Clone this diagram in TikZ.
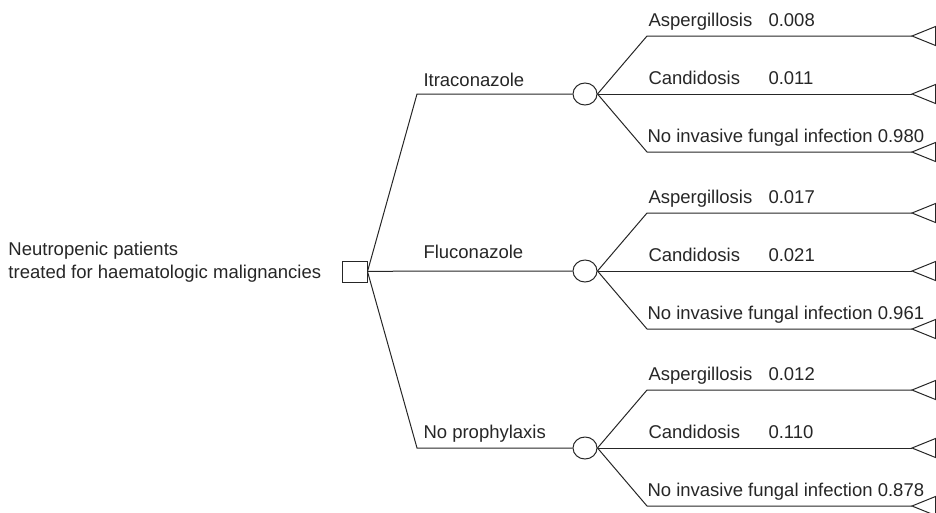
\documentclass[tikz,border=0pt]{standalone}
\usepackage{fontspec}
\setmainfont{Liberation Sans}
\usetikzlibrary{shapes.geometric, positioning}

\begin{document}
\begin{tikzpicture}[x=1pt, y=-1pt, line width=1pt,
  decision/.style={rectangle, draw=black!85, minimum width=25pt, minimum height=21pt, inner sep=0pt},
  chance/.style={ellipse, draw=black!85, minimum width=24pt, minimum height=22pt, inner sep=0pt},
  branch/.style={draw=black!85},
  lbl/.style={anchor=base west, inner sep=0pt, font=\fontsize{18.5}{21}\selectfont, text=black!85}]
\useasboundingbox (0,0) rectangle (936,512);
% decision node
\node[decision] (root) at (354.5,271.5) {};
\node[lbl, align=left, font=\fontsize{18.5}{23}\selectfont] (pop) at (8,278) {Neutropenic patients\\treated for haematologic malignancies};
% strategies
\foreach \name/\y/\b/\drug in {itra/94/86/Itraconazole, flu/271/258/Fluconazole, nop/448/438/No prophylaxis} {
  \coordinate (k\name) at (417,\y);
  \node[chance] (c\name) at (585,\y) {};
  \draw[branch] (root.east) -- (k\name) -- (c\name.west);
  \node[lbl] (l\name) at (423,\b) {\drug};
}
% outcomes
\foreach \name/\y/\pa/\pc/\pn in {itra/94/0.008/0.011/0.980, flu/271/0.017/0.021/0.961, nop/448/0.012/0.110/0.878} {
  \coordinate (ka\name) at (647,\y-58);
  \coordinate (kn\name) at (647,\y+58);
  \coordinate (ta\name) at (912,\y-58);
  \coordinate (tc\name) at (912,\y);
  \coordinate (tn\name) at (912,\y+58);
  \draw[branch] (c\name.east) -- (ka\name) -- (ta\name);
  \draw[branch] (c\name.east) -- (tc\name);
  \draw[branch] (c\name.east) -- (kn\name) -- (tn\name);
  \foreach \t in {ta,tc,tn}
    \draw[branch] (\t\name) -- ++(23.5,-9.5) -- ++(0,19) -- cycle;
  \node[lbl] (oa\name) at (648,\y-67.5) {Aspergillosis};
  \node[lbl] (pa\name) at (768,\y-67.5) {\pa};
  \node[lbl] (oc\name) at (648,\y-9.5) {Candidosis};
  \node[lbl] (pc\name) at (768,\y-9.5) {\pc};
  \node[lbl] (on\name) at (647,\y+48.5) {No invasive fungal infection \pn};
}
\end{tikzpicture}
\end{document}
